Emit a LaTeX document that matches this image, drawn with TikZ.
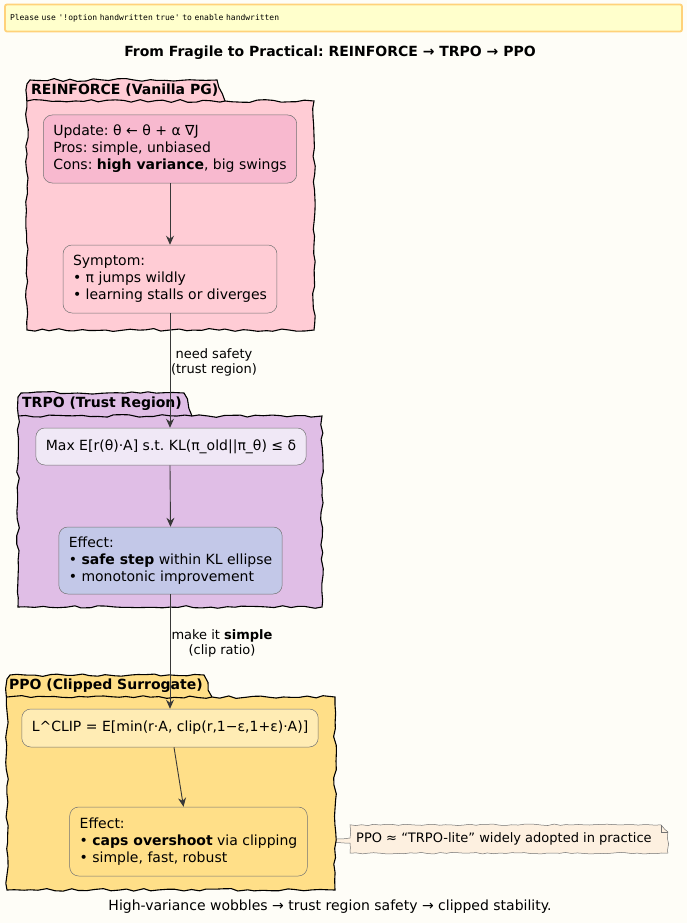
\documentclass[tikz,border=0pt]{standalone}
\usepackage{fontspec}
\setmainfont{DejaVu Sans}
\setmonofont{DejaVu Sans Mono}
\usetikzlibrary{arrows.meta,decorations.pathmorphing,calc,backgrounds}
\definecolor{bg}{HTML}{FEFDF7}
\definecolor{bannerfill}{HTML}{FFFFCC}
\definecolor{bannerline}{HTML}{FFD27A}
\definecolor{pinkpkg}{HTML}{FFCCD5}
\definecolor{pinknode}{HTML}{F8B9CF}
\definecolor{lavpkg}{HTML}{E0BEE6}
\definecolor{lavnode}{HTML}{F0E8F6}
\definecolor{bluenode}{HTML}{C3C8E8}
\definecolor{goldpkg}{HTML}{FFDF88}
\definecolor{goldnode}{HTML}{FFECB4}
\definecolor{notefill}{HTML}{FDF0E0}
\definecolor{arrowc}{HTML}{383838}
\tikzset{
  txt/.style={font=\fontsize{14}{17}\selectfont},
  smalltxt/.style={font=\fontsize{13}{15}\selectfont},
  pkgline/.style={draw=black, line width=1.1pt, decorate,
    decoration={random steps, segment length=8pt, amplitude=1.4pt}},
  box/.style={txt, draw=black!55, line width=0.5pt, rounded corners=9pt,
    inner xsep=10pt, inner ysep=0pt, align=left},
  arr/.style={draw=arrowc, line width=0.9pt, -{Stealth[length=9pt,width=8pt,inset=3pt]}},
  lbl/.style={smalltxt, align=center, inner sep=0pt},
  tablbl/.style={font=\bfseries\fontsize{14}{15}\selectfont, anchor=west, inner sep=0pt},
}
\begin{document}
\frenchspacing
\begin{tikzpicture}[x=1pt,y=-1pt]
\pgfmathsetseed{7}
\begin{scope}[on background layer]
\fill[bg] (0,0) rectangle (687,923);
\end{scope}
\useasboundingbox (0,0) rectangle (687,923);

% banner
\node[draw=bannerline, line width=1.8pt, fill=bannerfill, rounded corners=2pt,
  minimum width=677pt, minimum height=27pt, text width=667pt, align=left,
  inner xsep=5pt, font=\ttfamily\fontsize{8}{9}\selectfont] (banner) at (343.5,18)
  {Please use '!option handwritten true' to enable handwritten};

% title
\node[font=\bfseries\fontsize{14}{15}\selectfont] (title) at (330,53)
  {From Fragile to Practical: REINFORCE → TRPO → PPO};

% REINFORCE package
\draw[pkgline, fill=pinkpkg] (27,330) -- (27,84) -- (30,80) -- (217,80) -- (225,101) -- (314,101) -- (314,330) -- cycle;
\draw[pkgline] (27,101) -- (225,101);
\node[tablbl] (p1) at (31,90) {REINFORCE (Vanilla PG)};

% TRPO package
\draw[pkgline, fill=lavpkg] (18,607) -- (18,397) -- (21,393) -- (184,393) -- (192,416) -- (322,416) -- (322,607) -- cycle;
\draw[pkgline] (18,416) -- (192,416);
\node[tablbl] (p2) at (22,404) {TRPO (Trust Region)};

% PPO package
\draw[pkgline, fill=goldpkg] (7,890) -- (7,679) -- (10,675) -- (204,675) -- (212,697) -- (335,697) -- (335,890) -- cycle;
\draw[pkgline] (7,697) -- (212,697);
\node[tablbl] (p3) at (9,686) {PPO (Clipped Surrogate)};

% nodes
\node[box, fill=pinknode, minimum height=68pt] (n1) at (170,149)
  {Update: θ ← θ + α ∇J\\Pros: simple, unbiased\\Cons: \textbf{high variance}, big swings};
\node[box, fill=pinkpkg, minimum height=68pt] (n2) at (170,279)
  {Symptom:\\• π jumps wildly\\• learning stalls or diverges};
\node[box, fill=lavnode, minimum height=37pt] (n3) at (171,446.5)
  {Max E[r(θ)·A] s.t. KL(π\_old||π\_θ) ≤ δ};
\node[box, fill=bluenode, minimum height=67pt] (n4) at (170.5,560.5)
  {Effect:\\• \textbf{safe step} within KL ellipse\\• monotonic improvement};
\node[box, fill=goldnode, minimum height=38pt] (n5) at (170,728)
  {L\textasciicircum CLIP = E[min(r·A, clip(r,1−ε,1+ε)·A)]};
\node[box, fill=goldpkg, minimum height=69pt] (n6) at (188.5,841.5)
  {Effect:\\• \textbf{caps overshoot} via clipping\\• simple, fast, robust};

% arrows
\draw[arr] (n1.south) -- (n2.north);
\draw[arr] (n2.south) -- ([xshift=-1pt]n3.north);
\draw[arr] ([xshift=-1pt]n3.south) -- (n4.north);
\draw[arr] ([xshift=-0.5pt]n4.south) -- (n5.north);
\draw[arr] ([xshift=4pt]n5.south) -- ([xshift=-5pt]n6.north);

\node[lbl] (l1) at (214,362) {need safety\\(trust region)};
\node[lbl] (l2) at (222,643) {make it \textbf{simple}\\(clip ratio)};

% note
\node[smalltxt, anchor=west, minimum height=28pt, inner xsep=6pt, inner ysep=0pt] (note) at (350,839)
  {PPO ≈ “TRPO-lite” widely adopted in practice};
\begin{scope}[on background layer]
\draw[draw=black!55, line width=0.5pt, fill=notefill, decorate,
  decoration={random steps, segment length=6pt, amplitude=0.8pt}]
  (note.north west) -- ([xshift=3pt]note.north east) -- ([xshift=10pt,yshift=-7pt]note.north east)
  -- ([xshift=10pt]note.south east) -- (note.south west) -- ([yshift=-4pt]note.west)
  -- (n6.east) -- ([yshift=1pt]note.west) -- cycle;
\draw[draw=black!55, line width=0.5pt] ([xshift=3pt]note.north east) -- ([xshift=3pt,yshift=-7pt]note.north east) -- ([xshift=10pt,yshift=-7pt]note.north east);
\end{scope}

% caption
\node[txt] (caption) at (330,907) {High-variance wobbles → trust region safety → clipped stability.};
\end{tikzpicture}
\end{document}
